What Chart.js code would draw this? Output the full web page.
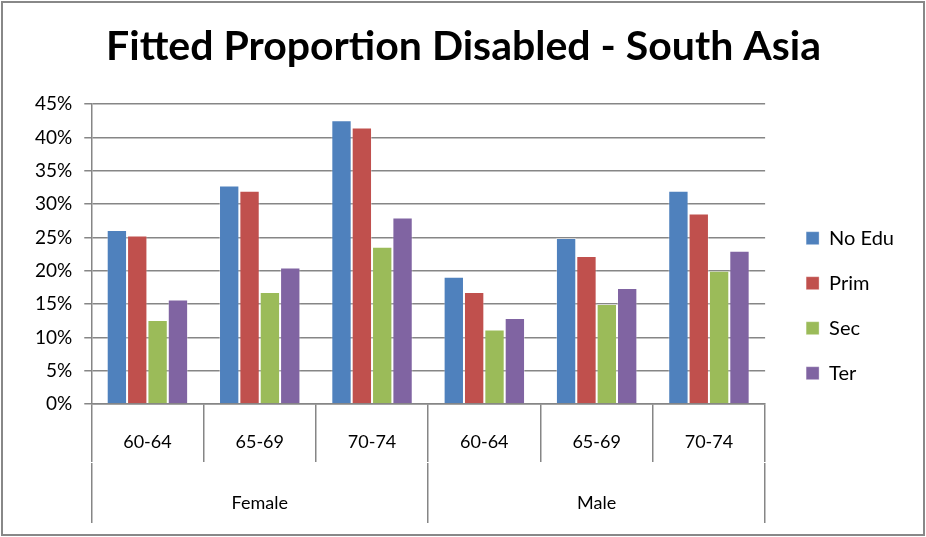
<!DOCTYPE html>
<html>
<head>
<meta charset="utf-8">
<script src="https://cdn.jsdelivr.net/npm/chart.js@4/dist/chart.umd.min.js"></script>
<style>
  html, body { margin: 0; padding: 0; background: #fff; }
  #wrap { width: 926px; height: 537px; position: relative; }
</style>
</head>
<body>
<div id="wrap"><canvas id="c" width="926" height="537"></canvas></div>
<script>
// Age bands, repeated within each sex
const ageGroups = ['60-64', '65-69', '70-74', '60-64', '65-69', '70-74'];
const sexGroups = ['Female', 'Male'];

// Fitted proportion disabled by education level (fractions)
const noEdu = [0.261, 0.328, 0.426, 0.191, 0.249, 0.320];
const prim  = [0.253, 0.320, 0.415, 0.168, 0.222, 0.286];
const sec   = [0.126, 0.168, 0.236, 0.112, 0.150, 0.200];
const ter   = [0.157, 0.205, 0.280, 0.129, 0.174, 0.230];

const yTicks = { min: 0, max: 0.45, step: 0.05 };

const FONT = 'Lato, "Open Sans", sans-serif';
const GRID = '#868686';

// Outer frame around the whole chart
const framePlugin = {
  id: 'frame',
  afterDraw(chart) {
    const ctx = chart.ctx;
    ctx.save();
    ctx.strokeStyle = '#888888';
    ctx.lineWidth = 2;
    ctx.strokeRect(2, 2, chart.width - 4, chart.height - 4);
    ctx.restore();
  }
};

const mk = (label, data, color) => ({
  label, data,
  backgroundColor: color,
  borderColor: 'rgba(255,255,255,0.35)',
  borderWidth: 1,
  categoryPercentage: 0.725,
  barPercentage: 1.0
});

new Chart(document.getElementById('c'), {
  type: 'bar',
  data: {
    labels: ageGroups,
    datasets: [
      mk('No Edu', noEdu, '#4F81BD'),
      mk('Prim', prim, '#C0504D'),
      mk('Sec', sec, '#9BBB59'),
      mk('Ter', ter, '#8064A2')
    ]
  },
  options: {
    responsive: false,
    animation: false,
    layout: { padding: { left: 23, right: 22, top: 0, bottom: 14 } },
    plugins: {
      title: {
        display: true,
        text: 'Fitted Proportion Disabled - South Asia',
        color: '#000',
        font: { family: FONT, size: 41, weight: 'bold' },
        padding: { top: 22, bottom: 33 }
      },
      legend: {
        position: 'right',
        title: { display: true, text: '', font: { size: 12 }, padding: { top: 74, bottom: 0 } },
        labels: {
          color: '#000',
          font: { family: FONT, size: 20 },
          boxWidth: 13,
          boxHeight: 13,
          padding: 25
        }
      },
      tooltip: { enabled: false }
    },
    scales: {
      x: {
        type: 'category',
        position: 'bottom',
        weight: 0,
        grid: { display: true, drawOnChartArea: false, offset: true, tickLength: 58, color: GRID, lineWidth: 1.5 },
        border: { display: true, color: GRID, width: 1.5 },
        ticks: { color: '#000', font: { family: FONT, size: 18 }, padding: -31, maxRotation: 0 },
        afterFit(scale) { scale.height = 59; }
      },
      x2: {
        type: 'category',
        position: 'bottom',
        weight: 1,
        labels: sexGroups,
        offset: true,
        grid: { display: true, drawOnChartArea: false, offset: true, tickLength: 60, color: GRID, lineWidth: 1.5 },
        border: { display: false },
        ticks: { color: '#000', font: { family: FONT, size: 18 }, padding: -31, maxRotation: 0 },
        afterFit(scale) { scale.height = 60; }
      },
      y: {
        min: yTicks.min,
        max: yTicks.max,
        grid: { color: GRID, lineWidth: 1.5, tickLength: 7 },
        border: { display: true, color: GRID, width: 1.5 },
        ticks: {
          stepSize: yTicks.step,
          color: '#000',
          font: { family: FONT, size: 19 },
          padding: 12,
          callback: v => Math.round(v * 100) + '%'
        }
      },
      // blank strip between the plot and the legend
      gap: {
        type: 'linear',
        position: 'right',
        display: true,
        grid: { display: false },
        border: { display: false },
        ticks: { display: false },
        afterFit(scale) { scale.width = 16; }
      }
    }
  },
  plugins: [framePlugin]
});
</script>
</body>
</html>
